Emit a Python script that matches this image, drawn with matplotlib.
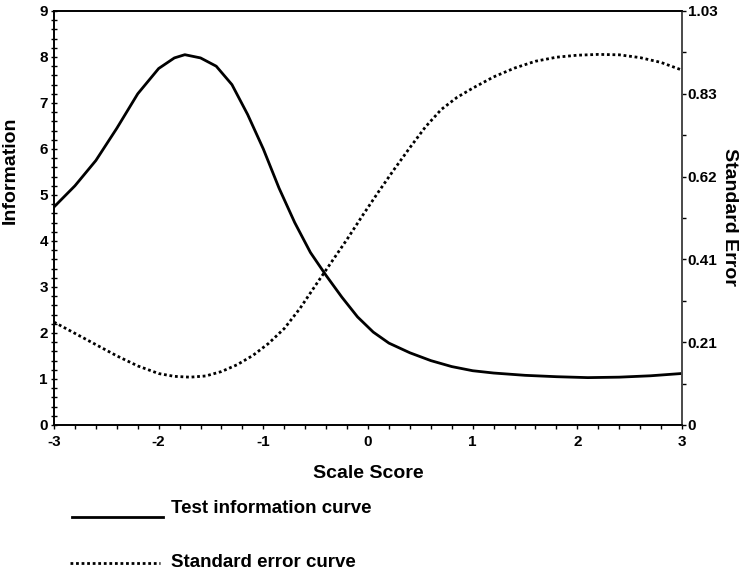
import numpy as np
import matplotlib
matplotlib.use('Agg')
import matplotlib.pyplot as plt
from matplotlib.ticker import MultipleLocator, FixedLocator
from matplotlib.lines import Line2D

plt.rcParams['font.family'] = ['Liberation Sans', 'DejaVu Sans']
plt.rcParams['font.weight'] = 'bold'

# values
info_x = [-3.0, -2.8, -2.6, -2.4, -2.2, -2.0, -1.85, -1.75, -1.6, -1.45, -1.3,
          -1.15, -1.0, -0.85, -0.7, -0.55, -0.4, -0.25, -0.1, 0.05, 0.2, 0.4,
          0.6, 0.8, 1.0, 1.2, 1.5, 1.8, 2.1, 2.4, 2.7, 3.0]
info_y = [4.74, 5.2, 5.75, 6.45, 7.2, 7.75, 7.98, 8.05, 7.98, 7.8, 7.4,
          6.75, 6.0, 5.15, 4.4, 3.75, 3.25, 2.78, 2.35, 2.02, 1.78, 1.57,
          1.40, 1.27, 1.18, 1.13, 1.08, 1.05, 1.03, 1.04, 1.07, 1.12]

se_x = [-3.0, -2.8, -2.6, -2.4, -2.2, -2.0, -1.85, -1.7, -1.55, -1.4, -1.25,
        -1.1, -0.95, -0.8, -0.65, -0.5, -0.35, -0.2, -0.05, 0.1, 0.25, 0.4,
        0.55, 0.7, 0.85, 1.0, 1.2, 1.4, 1.6, 1.8, 2.0, 2.2, 2.4, 2.6, 2.8, 3.0]
se_y = [0.256, 0.228, 0.200, 0.172, 0.147, 0.128, 0.121, 0.119, 0.122, 0.133, 0.150,
        0.173, 0.203, 0.240, 0.290, 0.348, 0.405, 0.462, 0.522, 0.580, 0.636, 0.690,
        0.742, 0.785, 0.815, 0.838, 0.866, 0.888, 0.905, 0.915, 0.920, 0.922, 0.921,
        0.914, 0.902, 0.883]

x_ticks = [-3, -2, -1, 0, 1, 2, 3]
left_ticks = list(range(0, 10))
right_ticks = [0, 0.206, 0.412, 0.618, 0.824, 1.03]
right_labels = ['0', '0.21', '0.41', '0.62', '0.83', '1.03']

W, H = 747, 584
fig = plt.figure(figsize=(W / 100, H / 100), dpi=100)
ax = fig.add_axes([54 / W, 1 - 425 / H, 628 / W, 414 / H])
ax2 = ax.twinx()

ax.plot(info_x, info_y, color='black', lw=2.0, solid_joinstyle='round')
ax2.plot(se_x, se_y, color='black', lw=2.0, linestyle=(0, (1, 1)))

ax.set_xlim(-3, 3)
ax.set_ylim(0, 9)
ax2.set_ylim(0, 1.03)

ax.set_xticks(x_ticks)
ax.set_xticklabels([str(t) for t in x_ticks])
ax.xaxis.set_minor_locator(MultipleLocator(0.2))
ax.set_yticks(left_ticks)
ax.yaxis.set_minor_locator(MultipleLocator(0.2))
ax2.set_yticks(right_ticks)
ax2.set_yticklabels(right_labels)
ax2.yaxis.set_minor_locator(FixedLocator([0.103, 0.309, 0.515, 0.721, 0.927]))

ax.tick_params(axis='x', which='both', direction='out', length=3, width=1, pad=4, labelsize=11)
ax.tick_params(axis='y', which='both', direction='inout', length=5, width=1, pad=2, labelsize=11)
ax2.tick_params(axis='y', which='both', direction='out', length=3, width=1, pad=1, labelsize=11)
for lab in ax.get_xticklabels() + ax.get_yticklabels() + ax2.get_yticklabels():
    lab.set_fontweight('bold')

for a in (ax, ax2):
    for s in a.spines.values():
        s.set_linewidth(1.2)
ax2.spines['right'].set_color('#555555')

ax.set_xlabel('Scale Score', fontsize=14, fontweight='bold')
ax.xaxis.set_label_coords(0.5, -0.097)
ax.set_ylabel('Information', fontsize=14, fontweight='bold')
ax.yaxis.set_label_coords(-0.0565, 0.616)
ax2.set_ylabel('Standard Error', fontsize=14, fontweight='bold', rotation=270, va='center')
ax2.yaxis.set_label_coords(1.075, 0.502)

# legend drawn below the axes
fig.add_artist(Line2D([72 / W, 163 / W], [1 - 517 / H, 1 - 517 / H], color='black', lw=2.0))
fig.add_artist(Line2D([70 / W, 160 / W], [1 - 563 / H, 1 - 563 / H], color='black', lw=2.0,
                      linestyle=(0, (1, 1))))
fig.text(171 / W, 1 - 513 / H, 'Test information curve', fontsize=13.5, fontweight='bold', va='baseline')
fig.text(171 / W, 1 - 567 / H, 'Standard error curve', fontsize=13.5, fontweight='bold', va='baseline')

fig.savefig('out.png', dpi=100)
